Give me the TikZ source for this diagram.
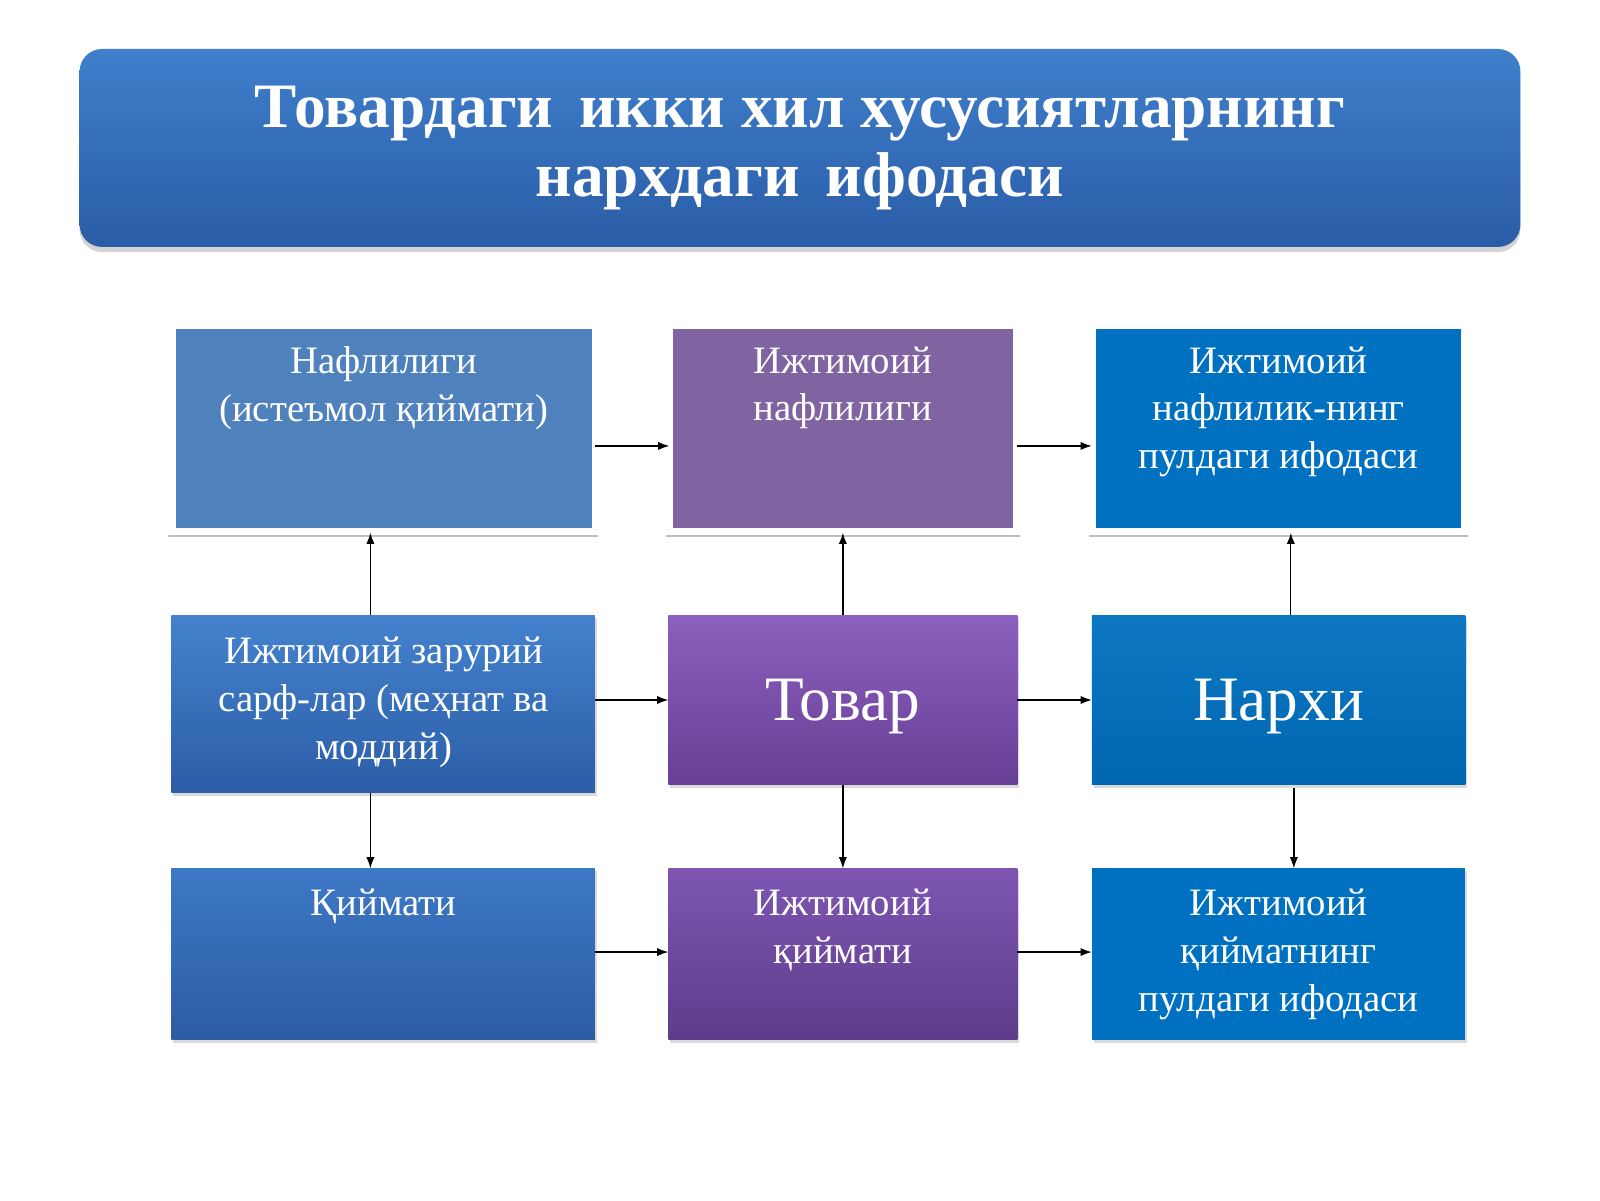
\documentclass[tikz,border=0pt]{standalone}
\usepackage{fontspec}
\setmainfont{Liberation Serif}
\usetikzlibrary{arrows.meta,shadows}
\definecolor{bA}{HTML}{4F81BD}
\definecolor{pB}{HTML}{8064A2}
\definecolor{cC}{HTML}{0070C0}
\definecolor{tT}{HTML}{3F7FCC}
\definecolor{tB}{HTML}{2A5CA6}
\definecolor{dT}{HTML}{4482CE}
\definecolor{dB}{HTML}{2C5DA6}
\definecolor{eT}{HTML}{8C60BE}
\definecolor{eB}{HTML}{673F95}
\definecolor{gT}{HTML}{3D78C6}
\definecolor{gB}{HTML}{2C5CA3}
\definecolor{hT}{HTML}{7E56B2}
\definecolor{hB}{HTML}{5E3C8A}
\begin{document}
\begin{tikzpicture}[x=1pt,y=-1pt,
 box/.style={draw=none,drop shadow={opacity=0.3,shadow xshift=2pt,shadow yshift=-3pt}},
 txt/.style={text=white,align=center,font=\fontsize{38}{47}\selectfont},
 big/.style={text=white,font=\fontsize{62}{70}\selectfont},
 arr/.style={-{Latex[length=11pt,width=8pt]},line width=1.3pt}]
\useasboundingbox (0,0) rectangle (1568,1176);
% title
\shade[rounded corners=22pt,top color=tT,bottom color=tB,drop shadow={opacity=0.35,shadow xshift=0pt,shadow yshift=-5pt}] (78,48) rectangle (1490,242);
\node[text=white,align=center,font=\bfseries\fontsize{62}{68}\selectfont] (title) at (784,145) {Товардаги\, икки хил хусусиятларнинг\\нархдаги\, ифодаси};
% row1
\fill[bA] (172,322) rectangle (580,517); \draw[gray!50,line width=2pt] (165,525)--(586,525);
\fill[pB] (660,322) rectangle (993,517); \draw[gray!50,line width=2pt] (653,525)--(1000,525);
\fill[cC] (1074,322) rectangle (1432,517); \draw[gray!50,line width=2pt] (1067,525)--(1439,525);
\node[txt,anchor=north] (a) at (376,336) {Нафлилиги\\(истеъмол қиймати)};
\node[txt,anchor=north] (b) at (826,336) {Ижтимоий\\нафлилиги};
\node[txt,anchor=north] (c) at (1253,336) {Ижтимоий\\нафлилик-нинг\\пулдаги ифодаси};
\coordinate (aB) at (363,522); \coordinate (bB) at (826,522); \coordinate (cB) at (1265,522);
% row2
\shade[box,top color=dT,bottom color=dB] (168,603) rectangle (583,777);
\shade[box,top color=eT,bottom color=eB] (655,603) rectangle (997,769);
\shade[box,top color=cC!95!white,bottom color=cC!92!black] (1070,603) rectangle (1436,769);
\node[txt] (d) at (376,688) {Ижтимоий зарурий\\сарф-лар (меҳнат ва\\моддий)};
\node[big] (e) at (826,692) {Товар};
\node[big] (f) at (1253,692) {Нархи};
% row3
\shade[box,top color=gT,bottom color=gB] (168,851) rectangle (583,1019);
\shade[box,top color=hT,bottom color=hB] (655,851) rectangle (997,1019);
\fill[cC,box] (1070,851) rectangle (1436,1019);
\node[txt,anchor=north] (g) at (376,868) {Қиймати};
\node[txt,anchor=north] (h) at (826,868) {Ижтимоий\\қиймати};
\node[txt,anchor=north] (i) at (1253,868) {Ижтимоий\\қийматнинг\\пулдаги ифодаси};
% coordinates for arrows
\coordinate (dT) at (363,603); \coordinate (eT) at (826,603); \coordinate (fT) at (1265,603);
\coordinate (dB) at (363,777); \coordinate (eB) at (826,769); \coordinate (fB) at (1268,772);
\coordinate (gT) at (363,851); \coordinate (hT) at (826,851); \coordinate (iT) at (1268,851);
\draw[arr] (dT)--(aB); \draw[arr] (eT)--(bB); \draw[arr] (fT)--(cB);
\draw[arr] (dB)--(gT); \draw[arr] (eB)--(hT); \draw[arr] (fB)--(iT);
\coordinate (a1) at (583,437); \coordinate (b0) at (656,437); \coordinate (b1) at (997,437); \coordinate (c0) at (1070,437);
\coordinate (d1) at (583,686); \coordinate (e0) at (655,686); \coordinate (e1) at (997,686); \coordinate (f0) at (1070,686);
\coordinate (g1) at (583,933); \coordinate (h0) at (655,933); \coordinate (h1) at (997,933); \coordinate (i0) at (1070,933);
\draw[arr] (a1)--(b0); \draw[arr] (b1)--(c0);
\draw[arr] (d1)--(e0); \draw[arr] (e1)--(f0);
\draw[arr] (g1)--(h0); \draw[arr] (h1)--(i0);
\end{tikzpicture}
\end{document}
